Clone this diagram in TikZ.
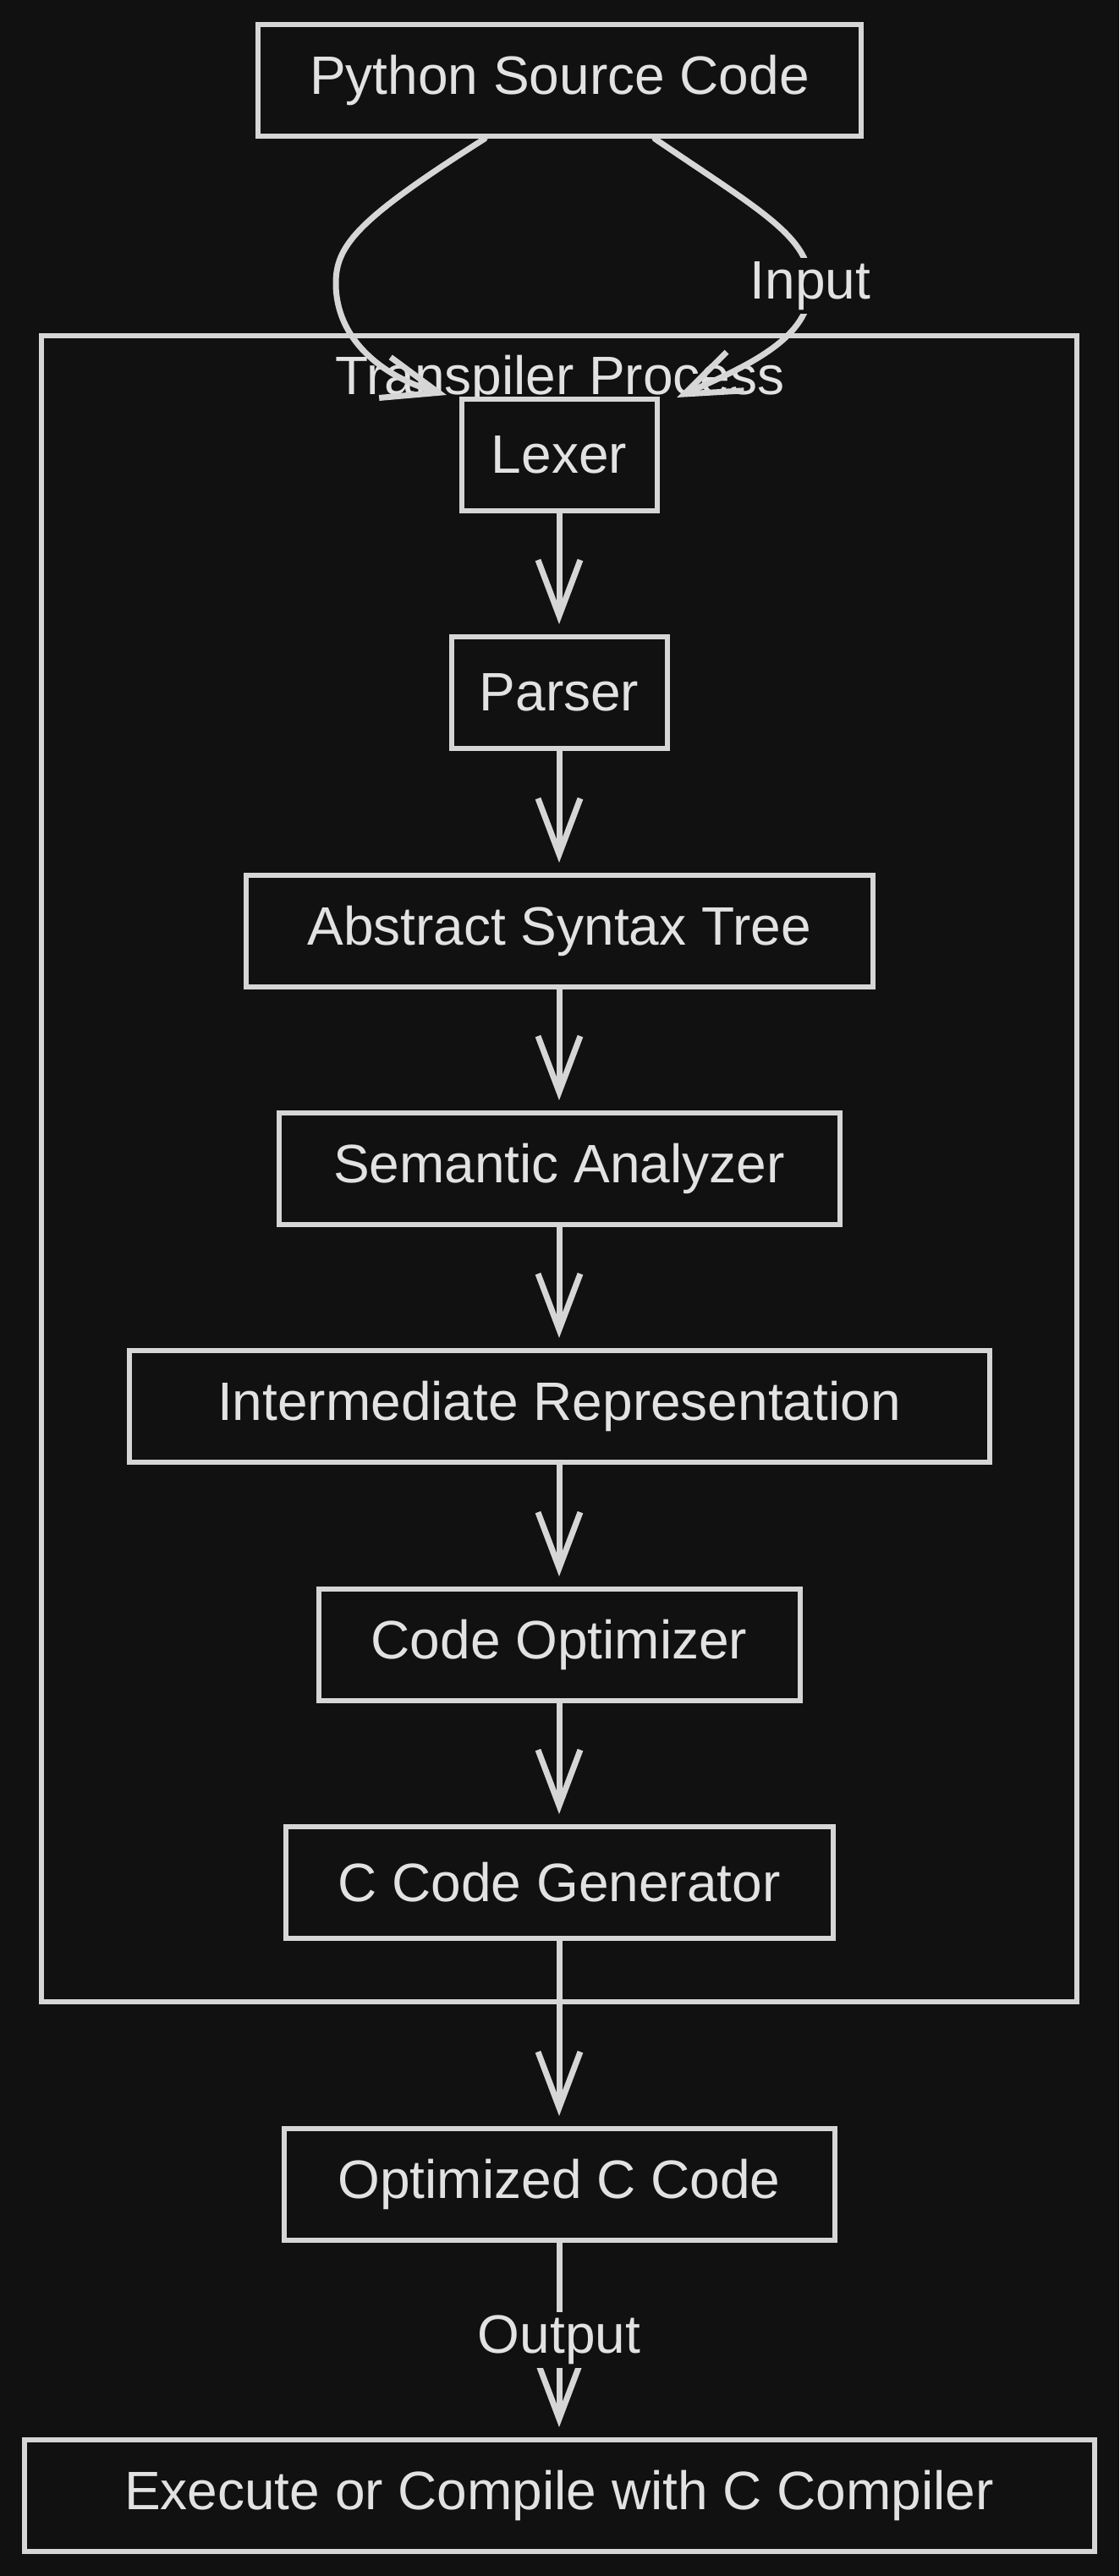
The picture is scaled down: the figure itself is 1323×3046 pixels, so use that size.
\documentclass[tikz,border=0pt]{standalone}
\usepackage{fontspec}
\setmainfont{Liberation Sans}
\usetikzlibrary{arrows.meta}
\definecolor{bg}{HTML}{111111}
\definecolor{ln}{HTML}{D6D6D6}
\definecolor{tx}{HTML}{E2E2E2}
\tikzset{
  txtfont/.style={font=\fontsize{64}{70}\selectfont},
  box/.style={draw=ln, line width=6pt, fill=bg, minimum height=132pt, text=tx, inner sep=0pt, txtfont},
  clusterbox/.style={draw=ln, line width=6pt, inner sep=0pt},
  lbl/.style={fill=bg, text=tx, inner sep=4pt, txtfont},
  arr/.style={draw=ln, line width=7pt, line cap=round, -{Straight Barb[length=66pt,width=50pt,line width=7pt]}, shorten >=12pt},
}
\begin{document}
\begin{tikzpicture}[x=1pt,y=-1pt]
\useasboundingbox[fill=bg] (0,0) rectangle (1323,3046);
\node[clusterbox, minimum width=1224pt, minimum height=1970pt] (cluster) at (661,1382) {};
\node[text=tx, txtfont] (clabel) at (662,450) {Transpiler Process};
\node[box, minimum width=713pt] (py) at (661.5,95) {Python Source Code};
\node[box, minimum width=231pt] (lexer) at (661,538) {Lexer};
\node[box, minimum width=255pt] (parser) at (661,819) {Parser};
\node[box, minimum width=741pt] (ast) at (661,1101) {Abstract Syntax Tree};
\node[box, minimum width=663pt] (sem) at (661,1382) {Semantic Analyzer};
\node[box, minimum width=1017pt] (ir) at (661,1663) {Intermediate Representation};
\node[box, minimum width=569pt] (opt) at (661,1945) {Code Optimizer};
\node[box, minimum width=647pt] (gen) at (661,2226) {C Code Generator};
\node[box, minimum width=651pt] (occ) at (661,2583) {Optimized C Code};
\node[box, minimum width=1265pt] (exec) at (661,2951) {Execute or Compile with C Compiler};
\coordinate (pyL) at (573,164);
\coordinate (pyR) at (774,164);
\coordinate (lexL) at (528,467);
\coordinate (lexR) at (800,470);
\draw[arr, shorten >=0pt] (pyL) .. controls (423,259) and (397,290) .. (397,335) .. controls (397,400) and (450,445) .. (lexL);
\draw[arr, shorten >=0pt] (pyR) .. controls (900,250) and (958,280) .. (958,338) node[lbl] (input) {Input} .. controls (958,400) and (885,432) .. (lexR);
\draw[arr] (lexer) -- (parser);
\draw[arr] (parser) -- (ast);
\draw[arr] (ast) -- (sem);
\draw[arr] (sem) -- (ir);
\draw[arr] (ir) -- (opt);
\draw[arr] (opt) -- (gen);
\draw[arr] (gen) -- (occ);
\draw[arr] (occ) -- node[lbl] (output) {Output} (exec);
\end{tikzpicture}
\end{document}
